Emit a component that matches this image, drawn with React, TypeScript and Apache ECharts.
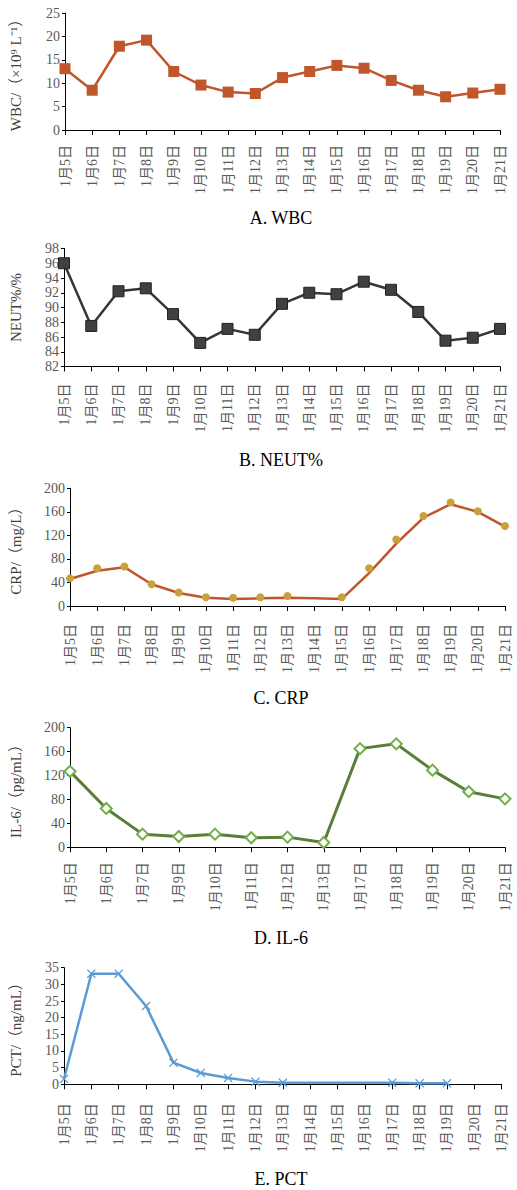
import React, { useEffect, useRef } from "react";
import * as echarts from "echarts";

const daysAll = ["1月5日", "1月6日", "1月7日", "1月8日", "1月9日", "1月10日", "1月11日", "1月12日", "1月13日", "1月14日", "1月15日", "1月16日", "1月17日", "1月18日", "1月19日", "1月20日", "1月21日"];
const daysIL6 = ["1月5日", "1月6日", "1月7日", "1月9日", "1月10日", "1月11日", "1月12日", "1月13日", "1月17日", "1月18日", "1月19日", "1月20日", "1月21日"];

const wbc = [13.1, 8.5, 17.9, 19.2, 12.5, 9.6, 8.1, 7.8, 11.2, 12.5, 13.8, 13.2, 10.6, 8.5, 7.1, 7.9, 8.7];
const neut = [96.0, 87.5, 92.2, 92.6, 89.1, 85.2, 87.1, 86.3, 90.5, 92.0, 91.8, 93.5, 92.4, 89.4, 85.5, 85.9, 87.1];
const crpLine = [46, 60, 66, 37, 22, 14, 12, 13, 14, 13, 12, 56, 106, 150, 173, 160, 135];
const crpDots = [47, 64, 67, 37, 23, 15, 14, 15, 17, null, 15, 64, 113, 153, 176, 161, 136];
const il6 = [127, 65, 22, 18, 22, 16, 17, 8, 165, 173, 129, 93, 81];
const pct = [1.6, 33.2, 33.2, 23.5, 6.5, 3.4, 1.9, 0.8, 0.5, null, null, null, 0.5, 0.3, 0.3, null, null];

const yNames = ["WBC/（×10⁹ L⁻¹）", "NEUT%/%", "CRP/（mg/L）", "IL-6/（pg/mL）", "PCT/（ng/mL）"];
const titles = ["A. WBC", "B. NEUT%", "C. CRP", "D. IL-6", "E. PCT"];
const yRanges = [
  [0, 25, 5],
  [82, 98, 2],
  [0, 200, 40],
  [0, 200, 40],
  [0, 35, 5],
];

const FONT = "'Liberation Serif', 'Noto Sans CJK SC', serif";
const X_PATH = "path://M0,1L1,0L5,4L9,0L10,1L6,5L10,9L9,10L5,6L1,10L0,9L4,5Z";

export default function App() {
  const ref = useRef<HTMLDivElement>(null);
  useEffect(() => {
    document.body.style.margin = "0";
    const chart = echarts.init(ref.current!, null, { renderer: "svg" });
    const grids = [
      { left: 59, top: 13, width: 441, height: 117 },
      { left: 59, top: 248.5, width: 441, height: 118 },
      { left: 61, top: 488.3, width: 444, height: 117.7 },
      { left: 63, top: 727.7, width: 442, height: 119.6 },
      { left: 59, top: 967.7, width: 442.7, height: 116.6 },
    ];
    const nameGaps = [42, 41, 47, 47, 41];
    const labelMargins = [15, 17, 18, 15, 19];
    const cats = [daysAll, daysAll, daysAll, daysIL6, daysAll];
    const titleY = [218, 460, 698, 938, 1179];

    const xAxis = cats.map((c, i) => ({
      type: "category",
      gridIndex: i,
      data: c,
      boundaryGap: false,
      axisLine: { show: true, lineStyle: { color: "#000", width: 1 } },
      axisTick: { show: true, length: 5, interval: 0, lineStyle: { color: "#000" } },
      axisLabel: {
        interval: 0,
        rotate: 90,
        margin: labelMargins[i],
        fontSize: 14,
        color: "#595959",
        fontFamily: FONT,
      },
      splitLine: { show: false },
    }));

    const yAxis = yRanges.map((r, i) => ({
      type: "value",
      gridIndex: i,
      min: r[0],
      max: r[1],
      interval: r[2],
      name: yNames[i],
      nameLocation: "middle",
      nameRotate: 90,
      nameGap: nameGaps[i],
      nameTextStyle: { fontSize: 15, color: "#404040", fontFamily: FONT },
      axisLine: { show: true, lineStyle: { color: "#000", width: 1 } },
      axisTick: { show: true, length: 3, lineStyle: { color: "#000" } },
      axisLabel: {
        fontSize: 14,
        color: "#595959",
        fontFamily: FONT,
        margin: 5,
      },
      splitLine: { show: false },
    }));

    const series: any[] = [
      {
        type: "line",
        xAxisIndex: 0,
        yAxisIndex: 0,
        data: wbc,
        showAllSymbol: true,
        symbol: "rect",
        symbolSize: 11,
        lineStyle: { color: "#c0562b", width: 2.5 },
        itemStyle: { color: "#c0562b" },
      },
      {
        type: "line",
        xAxisIndex: 1,
        yAxisIndex: 1,
        data: neut,
        showAllSymbol: true,
        symbol: "rect",
        symbolSize: 11,
        lineStyle: { color: "#363636", width: 2.5 },
        itemStyle: { color: "#404040", borderColor: "#222", borderWidth: 1 },
      },
      {
        type: "line",
        xAxisIndex: 2,
        yAxisIndex: 2,
        data: crpLine,
        showSymbol: false,
        symbol: "none",
        lineStyle: { color: "#c0562b", width: 2.5 },
        z: 2,
      },
      {
        type: "line",
        xAxisIndex: 2,
        yAxisIndex: 2,
        data: crpDots,
        showAllSymbol: true,
        symbol: "circle",
        symbolSize: 8,
        lineStyle: { width: 0, opacity: 0 },
        itemStyle: { color: "#c9a03a" },
        z: 3,
      },
      {
        type: "line",
        xAxisIndex: 3,
        yAxisIndex: 3,
        data: il6,
        showAllSymbol: true,
        symbol: "emptyDiamond",
        symbolSize: 11,
        lineStyle: { color: "#5a7e3a", width: 3 },
        itemStyle: { color: "#70ad47", borderColor: "#70ad47", borderWidth: 1.5 },
      },
      {
        type: "line",
        xAxisIndex: 4,
        yAxisIndex: 4,
        data: pct,
        connectNulls: true,
        showAllSymbol: true,
        symbol: X_PATH,
        symbolSize: 9,
        lineStyle: { color: "#5b9bd5", width: 2.5 },
        itemStyle: { color: "#5b9bd5" },
      },
    ];

    const graphic = titles.map((t, i) => ({
      type: "text",
      x: 281,
      y: titleY[i],
      style: {
        text: t,
        fontSize: 18,
        fontFamily: FONT,
        fill: "#000",
        align: "center",
        verticalAlign: "middle",
      },
    }));

    chart.setOption({
      animation: false,
      backgroundColor: "#fff",
      grid: grids,
      xAxis,
      yAxis,
      series,
      graphic,
    });
    return () => chart.dispose();
  }, []);
  return <div ref={ref} style={{ position: "absolute", left: 0, top: 0, width: 517, height: 1190 }} />;
}
